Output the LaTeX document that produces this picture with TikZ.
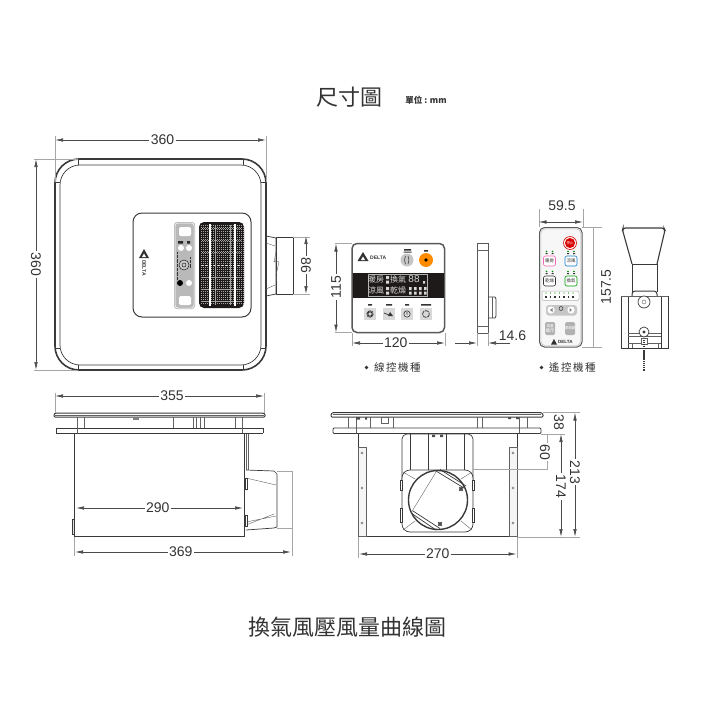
\documentclass[tikz,border=0pt]{standalone}
\usepackage{fontspec}
\setmainfont{Liberation Sans}
\newfontfamily\cjk{Noto Sans CJK TC}
\newfontfamily\cjks[LetterSpace=14]{Noto Sans CJK TC}
\usetikzlibrary{arrows.meta}
\definecolor{ink}{HTML}{333333}
\definecolor{body}{HTML}{3A3A3A}
\definecolor{dimc}{HTML}{4A4A4A}
\definecolor{darkband}{HTML}{1F1A1A}
\tikzset{
 dimline/.style={draw=dimc,line width=.6pt,{Latex[length=8pt,width=3.5pt]}-{Latex[length=8pt,width=3.5pt]}},
 dimtext/.style={fill=white,inner sep=1.5pt,text=ink,font=\fontsize{14}{14}\selectfont},
 ext/.style={draw=gray!70,line width=.5pt},
 part/.style={draw=body,line width=.7pt},
 thick part/.style={draw=body,line width=1.6pt},
 thin part/.style={draw=body!80,line width=.4pt},
 tiny mark/.style={fill=#1,draw=none},
 tiny mark/.default=gray,
 band text/.style={text=white!85!black,inner sep=0pt,font=\cjk\fontsize{8}{8}\selectfont},
 btn text/.style={text=ink,inner sep=0pt,font=\cjk\fontsize{4.5}{5}\selectfont},
 caption/.style={text=ink,inner sep=0pt,font=\cjks\fontsize{10.5}{11}\selectfont},
 bullet dot/.style={fill=ink,draw=none},
 bigtitle/.style={text=ink,inner sep=0pt,font=\cjk\fontsize{22}{22}\selectfont},
 logotext/.style={text=ink,inner sep=0pt,font=\bfseries\fontsize{5}{6}\selectfont},
}
\begin{document}
\begin{tikzpicture}[x=1pt,y=-1pt]
\useasboundingbox (0,0) rectangle (704,704);
% titles
\node[bigtitle] (t1) at (349,97) {尺寸圖};
\node[text=ink,inner sep=0pt,font=\cjk\bfseries\fontsize{8.5}{9}\selectfont] (t2) at (426,100.5) {單位 : mm};
\node[bigtitle] (t3) at (347,627) {換氣風壓風量曲線圖};

% ---------- top view
\draw[thick part,rounded corners=24pt] (55,159) rectangle (266,370);
\draw[part,rounded corners=20pt] (60,165) rectangle (261,365);
\draw[part] (78,159)--(78,165) (243,159)--(243,165) (78,370)--(78,365) (243,370)--(243,365) (55,182)--(60,182) (261,182)--(266,182) (55,348)--(60,348) (261,348)--(266,348);
\draw[line width=1pt,draw=body,rounded corners=9pt] (133,213) rectangle (251,317);
\fill[gray!55,rounded corners=3pt] (174,222) rectangle (195,309);
\draw[white,line width=.5pt,rounded corners=3pt] (175,223) rectangle (194,308);
\fill[white,rounded corners=1.5pt] (179,227) rectangle (191,236);
\fill[white,rounded corners=1.5pt] (179,296) rectangle (191,305);
\fill[white] (181,248) circle (3) (189,248) circle (3) (189,283) circle (3);
\fill[black] (180,283) circle (3);
\draw[gray!20!black,line width=.5pt,fill=gray!40] (184,265) circle (5);
\draw[gray!20!black,line width=.5pt] (184,265) circle (2);
\fill[tiny mark=gray!30!black] (178,241) rectangle (183,243.5) (187,241) rectangle (190,243.5);
\draw[gray!40!black,line width=.6pt,dash pattern=on .8pt off .5pt] (177.5,252)--(177.5,280) (190.5,257)--(190.5,268);
% grille
\fill[darkband,rounded corners=5pt] (199,222) rectangle (244,308);
\foreach \x in {201,203,...,243}{\draw[gray!70,line width=.3pt,dash pattern=on 1pt off 1pt] (\x,225)--(\x,305);}
\foreach \y in {228,240,252,277,289,301}{\draw[gray!75,line width=.4pt,dash pattern=on 1pt off 1pt] (202,\y)--(241,\y);}
\draw[white!85!black,line width=.5pt,dash pattern=on 3pt off 1pt] (201,265)--(242,265);
\draw[gray!70,line width=.8pt] (215,225)--(215,305) (230,225)--(230,305);
\draw[white,line width=1.1pt] (210,224)--(210,306) (235,224)--(235,306);
% logo on panel
\fill[ink] (144,249)--(139,258)--(149,258)--cycle;
\fill[white] (144,253.5)--(142,257)--(146,257)--cycle;
\node[logotext,rotate=-90] (lg1) at (144,268) {DELTA};
% duct top view
\draw[part] (266,236)--(276,238)--(276,294)--(266,296);
\draw[part] (276,237) rectangle (293,294);
\draw[thin part] (266,243)--(275,246) (266,289)--(275,285) (276,252)--(274,262) to[out=60,in=120] (279,262)--(276,275)--(277,283);
\coordinate (c86a) at (306,236); \coordinate (c86b) at (306,294);
\draw[ext] (293,237)--(310,237) (293,294)--(310,294);
\draw[dimline] (c86a)--node[dimtext,rotate=-90,pos=.5]{86}(c86b);
\coordinate (c360a) at (55,140); \coordinate (c360b) at (266,140);
\draw[ext] (55,136)--(55,182) (266,136)--(266,182);
\draw[dimline] (c360a)--node[dimtext,pos=.51]{360}(c360b);
\coordinate (c360c) at (36,159); \coordinate (c360d) at (36,370);
\draw[ext] (34,159)--(78,159) (34,370)--(78,370);
\draw[dimline] (c360c)--node[dimtext,rotate=-90,pos=.5]{360}(c360d);

% ---------- wired controller
\draw[line width=1.5pt,draw=gray!70!black,rounded corners=5pt] (352,243.5) rectangle (444.5,332.5);
\fill[darkband] (352.8,273) rectangle (444,298);
\fill[ink] (363,252)--(357.5,261)--(368.5,261)--cycle;
\fill[white] (363,256.5)--(361,260)--(365,260)--cycle;
\node[logotext,anchor=west] (lg2) at (370,258) {DELTA};
\fill[gray!45] (407,260) circle (6.5);
\draw[ink,line width=.5pt,rounded corners=1pt] (405.5,256)--(404.5,260)--(405.5,264) (408,256)--(409,260)--(408,264);
\fill[orange!90!yellow] (426,260) circle (7);
\fill[black] (426,260) circle (1.8);
\fill[tiny mark=ink] (404,249) rectangle (411,250.5) (403.5,251.5) rectangle (411.5,252.5) (424,250) rectangle (428,251.5);
\draw[gray!60,line width=.3pt] (368,274.5) rectangle (427,296);
\node[band text] (b1) at (376,279.5) {暖房};
\node[band text] (b2) at (376,290.5) {涼風};
\node[band text] (b3) at (398,279.5) {換氣};
\node[band text] (b4) at (398,290.5) {乾燥};
\node[band text] (b5) at (414,279.5) {\fontsize{10}{10}\selectfont\mdseries\rmfamily 88};
\fill[tiny mark=white!85!black] (386,276) rectangle (389,279) (386,280.5) rectangle (389,283.5) (386,287) rectangle (389,290) (386,291.5) rectangle (389,294.5) (423,281) rectangle (425,283.5);
\foreach \x in {409,414,419,424}{\fill[tiny mark=white!85!black] (\x,287) rectangle (\x+2.5,290) (\x,291.5) rectangle (\x+2.5,294.5);}
\foreach \x in {370,389,407,426}{\fill[gray!30] (\x-6,308) rectangle (\x+6,320);}
\draw[ink,line width=.9pt] (370,314) circle (2.2);
\draw[ink,line width=.9pt,dash pattern=on .8pt off .6pt] (370,314) circle (3.2);
\draw[ink,line width=.7pt] (384,313)--(389,315);
\fill[ink] (390,312)--(393,316)--(388,316)--cycle;
\draw[ink,line width=.6pt] (407,314) circle (3.2) (407,312)--(407,314.5);
\draw[ink,line width=.7pt,dash pattern=on 4pt off .8pt] (426,314) circle (3.4);
\fill[tiny mark=ink] (368,304) rectangle (372,305.5) (386,304) rectangle (392,305.5) (405,304) rectangle (409,305.5) (421,304) rectangle (431,305.5);
\coordinate (c115a) at (336,243.5); \coordinate (c115b) at (336,332.5);
\draw[ext] (335,243.5)--(352,243.5) (335,332.5)--(352,332.5);
\draw[dimline] (c115a)--node[dimtext,rotate=90,pos=.49]{115}(c115b);
\coordinate (c120a) at (352,343); \coordinate (c120b) at (445,343);
\draw[ext] (352,333)--(352,346) (445,333)--(445,346);
\draw[dimline] (c120a)--node[dimtext,pos=.47]{120}(c120b);
\fill[bullet dot] (366.5,367.5) circle (1.8);
\node[caption,anchor=west] (cap1) at (374,367.5) {線控機種};

% side view of wired controller
\draw[part,draw=gray!70!black,line width=1pt] (477,243.5) rectangle (488,333);
\draw[thin part] (477,250)--(488,250) (477,326)--(488,326);
\draw[part] (488,297) -- (495,297) -- (496,299) -- (496,316) -- (495,318) -- (488,318);
\draw[thin part] (492,297)--(492,318);
\coordinate (c146a) at (455,343); \coordinate (c146b) at (477,343);
\coordinate (c146c) at (510,343); \coordinate (c146d) at (488,343);
\draw[ext] (477,333)--(477,346) (488,333)--(488,346);
\draw[dimc,line width=.6pt,-{Latex[length=8pt,width=3.5pt]}] (c146a)--(c146b);
\draw[dimc,line width=.6pt,-{Latex[length=8pt,width=3.5pt]}] (c146c)--(c146d);
\node[text=ink,inner sep=0pt,font=\fontsize{14}{14}\selectfont] (n146) at (512.5,335.5) {14.6};

% ---------- remote
\draw[line width=1pt,draw=gray!70!black,fill=gray!6,rounded corners=5pt] (539.5,227.5) rectangle (582,347);
\draw[gray!60,line width=.4pt,rounded corners=4pt] (541,229) rectangle (580.5,345.5);
\fill[red!85!black] (570,243) circle (5);
\draw[red!85!black,line width=.6pt] (570,243) circle (6.5);
\node[text=white,inner sep=0pt,font=\cjk\fontsize{3.5}{4}\selectfont] (r0) at (570,243) {停止};
\foreach \x/\c/\t/\y in {549.5/magenta!60/暖房/261,571/cyan!60!blue/涼風/261,549.5/ink/乾燥/281,571/green!60!black/換氣/281}{
 \draw[\c,line width=.6pt,fill=white,rounded corners=2pt] (\x-6,\y-5) rectangle (\x+6,\y+5);
 \node[btn text] at (\x,\y) {\t};
 \fill[green!50!black] (\x-3,\y-9.5) circle (.9) (\x+3,\y-9.5) circle (.9);
 \fill[tiny mark=ink] (\x-4,\y-8) rectangle (\x-2,\y-6.8) (\x+2,\y-8) rectangle (\x+4,\y-6.8);
}
\draw[gray!60,line width=.5pt,fill=white,rounded corners=2pt] (542,291) rectangle (579,300.5);
\foreach \x in {546,550.5,...,575}{\fill[green!50!black] (\x,293) circle (.7);\fill[tiny mark=ink] (\x-.6,295.5) rectangle (\x+.6,298);}
\fill[gray!45,rounded corners=3pt] (546,305) rectangle (577,315.5);
\fill[white] (551,310) circle (3.6) (571,310) circle (3.6);
\fill[gray] (552.5,308)--(552.5,312)--(550,310)--cycle (569.5,308)--(569.5,312)--(572,310)--cycle;
\draw[gray!20!black,line width=.4pt] (561,308.5) circle (2);
\fill[gray!60,rounded corners=1.5pt] (545,322) rectangle (555,335) (565,322) rectangle (575,335);
\node[btn text,text=white,align=center] (r1) at (550,328.5) {\fontsize{3.5}{4}\selectfont 風量\\顯示};
\node[btn text,text=white] (r2) at (570,328.5) {\fontsize{3.5}{4}\selectfont 開關鍵};
\fill[ink] (554,339)--(551,344.5)--(557,344.5)--cycle;
\node[logotext,anchor=west,font=\bfseries\fontsize{4.5}{5}\selectfont] (lg3) at (558,342) {DELTA};
\coordinate (c595a) at (538.5,222); \coordinate (c595b) at (583,222);
\draw[ext] (539,209)--(539,227) (583,209)--(583,227);
\draw[dimline] (c595a)--(c595b);
\node[text=ink,inner sep=0pt,font=\fontsize{14}{14}\selectfont] (n595) at (562,205.5) {59.5};
\coordinate (c157a) at (593,227); \coordinate (c157b) at (593,347);
\draw[ext] (582,227)--(602,227) (582,347)--(602,347);
\draw[ext] (c157a)--(c157b);
\node[text=ink,inner sep=0pt,rotate=90,font=\fontsize{14}{14}\selectfont] (n157) at (606,287) {157.5};
\fill[bullet dot] (541.5,367.5) circle (1.8);
\node[caption,anchor=west] (cap2) at (549,367.5) {遙控機種};

% remote holder
\draw[thick part,line width=1.1pt,rounded corners=2pt] (632,264)--(622.5,230)--(623,228)--(664,228)--(665,230)--(657,264);
\draw[part] (632,264)--(632,292) (657,264)--(657,292) (632,264)--(657,264);
\draw[part,line width=1pt,rounded corners=3pt] (632,296)--(632,291)--(657,291)--(657,296);
\draw[part] (621,296) rectangle (668,348);
\draw[part] (628,296)--(628,348) (661,296)--(661,348);
\draw[thin part] (621,296)--(668,296) (628,333)--(661,333) (628,336)--(661,336) (628,343)--(661,343) (632,343)--(632,348) (658,343)--(658,348);
\draw[part,fill=white] (644,302) circle (6);
\draw[thin part] (644,302) circle (2);
\draw[part,fill=white] (644,332) circle (5);
\fill[body] (644,332) circle (1.7);
\draw[thin part,fill=white] (641,338) rectangle (647,344);
\draw[body,line width=2.2pt,dash pattern=on 1.4pt off .5pt] (644,340)--(644,371);

% ---------- side view (front-left)
\draw[part,line width=1pt,rounded corners=1pt] (54,417)--(54,414)--(56,413)--(263,413)--(265,414)--(265,417)--cycle;
\draw[thin part] (55,415)--(264,415);
\draw[part] (56,428)--(56,433) (263,428)--(263,433);
\draw[part,line width=.9pt] (56,428)--(263,428) (56,433.5)--(263,433.5);
\draw[thin part] (77,417)--(77,433) (84,417)--(84,428) (173,417)--(173,428) (193,417)--(193,428) (196,417)--(196,428) (200,417)--(200,428) (204,417)--(204,428) (235,417)--(235,428) (242,417)--(242,433);
\fill[gray] (133,417) rectangle (139,419.5);
\draw[part,line width=1pt] (74.5,434)--(74.5,536.5)--(244,536.5)--(244,434);
\draw[line width=1.4pt,draw=body] (74.5,536.5)--(122,536.5);
\draw[part,fill=gray!25] (72.5,519)--(74.5,519)--(74.5,534)--(72.5,534)--cycle;
\draw[thin part] (246,434)--(246,470) (248.5,434)--(248.5,470);
\draw[part] (246,470)--(274,471)--(277,474)--(277,527)--(274,528)--(246,530);
\draw[thin part] (246,478)--(276,485) (246,525)--(274,514) (246,522)--(276,516) (248,490)--(246,490);
\draw[part,fill=white] (245,478) rectangle (247.5,489);
\draw[part,fill=white] (245,515) rectangle (247.5,526);
\draw[ext] (277,471)--(292,471) (277,528)--(292,528) (292,471)--(292,556) (74.5,537)--(74.5,556);
\coordinate (c355a) at (55,396); \coordinate (c355b) at (264,396);
\draw[ext] (55,393)--(55,413) (264,393)--(264,413);
\draw[dimline] (c355a)--node[dimtext,pos=.56]{355}(c355b);
\coordinate (c290a) at (76,508); \coordinate (c290b) at (243,508);
\draw[dimline] (c290a)--node[dimtext,pos=.49]{290}(c290b);
\coordinate (c369a) at (75,552); \coordinate (c369b) at (291,552);
\draw[dimline] (c369a)--node[dimtext,pos=.49]{369}(c369b);

% ---------- rear view (front-right)
\draw[part,line width=1pt,rounded corners=1pt] (331,417)--(331,414)--(333,412.5)--(541,412.5)--(543,414)--(543,417)--cycle;
\draw[thin part] (333,414.5)--(541,414.5);
\draw[part,line width=.9pt,rounded corners=1pt] (333,433.5)--(333,428)--(541,428)--(541,433.5)--cycle;
\draw[thin part] (348,417)--(348,428) (356,417)--(356,433) (370,417)--(370,428) (393,417)--(393,428) (477,417)--(477,428) (482,417)--(482,428) (519,417)--(519,433) (527,417)--(527,428);
\draw[thin part] (381,417) rectangle (388,423);
\fill[gray!60!black] (356,417) rectangle (360,419.5) (365,417) rectangle (367,419.5) (508,417) rectangle (511,419) (516,417) rectangle (519,419);
\draw[part,line width=1pt] (358,434)--(358,536.5)--(517,536.5)--(517,434);
\foreach \x in {358,509}{\draw[thin part,fill=gray!8] (\x,447) rectangle (\x+8,536);}
\foreach \y in {453,488,523}{\draw[thin part] (362,\y) circle (1.2) (513,\y) circle (1.2);}
% duct
\draw[part,rounded corners=5pt] (402,480)--(402,434)--(473,434)--(473,480);
\draw[part] (410,434)--(410,470) (428,434)--(428,470) (446,434)--(446,470) (464,434)--(464,470);
\fill[gray!60!black] (432,434.5) rectangle (435,437) (440,434.5) rectangle (443,437);
\draw[part,fill=white,rounded corners=8pt] (402,470) rectangle (473,532);
\draw[thin part] (403,472)--(415,479) (472,472)--(461,479) (403,530)--(415,521) (472,530)--(461,521);
\draw[line width=1.4pt,draw=body] (438,500) circle (29.5);
\draw[part] (436,471)--(464,488) (440,469.5)--(466,486) (411,513)--(436,530) (413,511)--(440,528.5);
\draw[thin part] (436,472)--(411,513);
\foreach \a/\b in {461/489,440/524}{\draw[body,line width=.6pt] (\a,\b) circle (1.6); \draw[body,line width=.4pt] (\a-2,\b-2)--(\a+2,\b+2) (\a+2,\b-2)--(\a-2,\b+2);}
\foreach \x in {400,472}{\draw[part,fill=white] (\x,480) rectangle (\x+2.5,490) (\x,508) rectangle (\x+2.5,522);}
\draw[ext] (473,469.5)--(548,469.5) (517,537)--(580,537) (541,434)--(565,434) (543,412.5)--(580,412.5);
\draw[ext] (358,537)--(358,558) (517,537)--(517,558);
\coordinate (c270a) at (359,554); \coordinate (c270b) at (516.5,554);
\draw[dimline] (c270a)--node[dimtext,pos=.5]{270}(c270b);
\coordinate (c60a) at (547,434); \coordinate (c60b) at (547,469.5);
\draw[ext] (c60a)--(c60b);
\node[dimtext,rotate=-90] (n60) at (545,452) {60};
\coordinate (c174a) at (561,434); \coordinate (c174b) at (561,537);
\draw[dimline] (c174a)--node[dimtext,rotate=-90,pos=.51]{174}(c174b);
\coordinate (c213a) at (575,412.5); \coordinate (c213b) at (575,537);
\draw[dimline] (c213a)--node[dimtext,rotate=-90,pos=.48]{213}(c213b);
\node[text=ink,inner sep=0pt,rotate=-90,font=\fontsize{14}{14}\selectfont] (n38) at (559,422) {38};
\end{tikzpicture}
\end{document}
